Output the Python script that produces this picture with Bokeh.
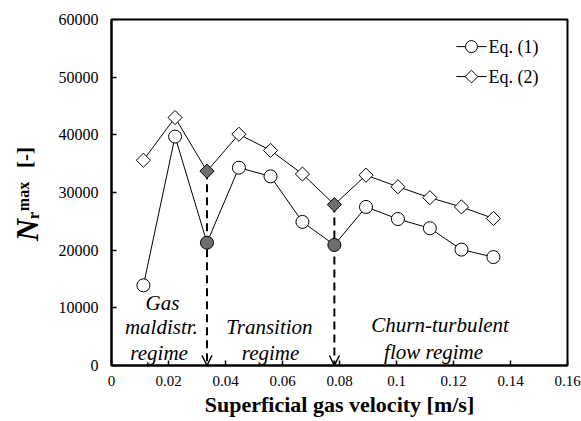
import numpy as np
from bokeh.plotting import figure
from bokeh.layouts import row
from bokeh.models import (Label, Arrow, OpenHead, FixedTicker, Range1d,
                          ColumnDataSource)
from bokeh.embed import file_html
from bokeh.resources import INLINE

# ---- data ----
ug = [0.0112, 0.0223, 0.0335, 0.0447, 0.0558, 0.0670,
      0.0782, 0.0893, 0.1005, 0.1117, 0.1228, 0.1340]
eq1 = [13900, 39700, 21300, 34300, 32800, 24900,
       20900, 27500, 25400, 23800, 20100, 18800]
eq2 = [35600, 43000, 33700, 40100, 37300, 33200,
       27900, 33000, 31000, 29100, 27500, 25500]
transition_idx = [2, 6]
series_names = ["Eq. (1)", "Eq. (2)"]

x_ticks = [0, 0.02, 0.04, 0.06, 0.08, 0.10, 0.12, 0.14, 0.16]
x_tick_labels = ["0", "0.02", "0.04", "0.06", "0.08", "0.1", "0.12", "0.14", "0.16"]
y_ticks = [0, 10000, 20000, 30000, 40000, 50000, 60000]
y_tick_labels = ["0", "10000", "20000", "30000", "40000", "50000", "60000"]

FONT = "Liberation Serif"
GRAY = "#6e6e6e"
YLAB_W = 50

fills = [GRAY if i in transition_idx else "white" for i in range(len(ug))]
src = ColumnDataSource(dict(x=ug, eq1=eq1, eq2=eq2, fill=fills))

p = figure(width=581 - YLAB_W, height=421, x_range=Range1d(0, 0.16), y_range=Range1d(0, 60000),
           output_backend="svg", toolbar_location=None,
           min_border_left=111 - YLAB_W, min_border_right=14, min_border_top=19,
           min_border_bottom=56)
p.xgrid.visible = False
p.ygrid.visible = False
p.outline_line_color = "black"
p.outline_line_width = 2
p.background_fill_color = "white"
p.border_fill_color = "white"

p.xaxis.ticker = FixedTicker(ticks=x_ticks)
p.xaxis.major_label_overrides = {t: l for t, l in zip(x_ticks, x_tick_labels)}
p.yaxis.ticker = FixedTicker(ticks=y_ticks)
p.yaxis.major_label_overrides = {t: l for t, l in zip(y_ticks, y_tick_labels)}
for ax in (p.xaxis, p.yaxis):
    ax.axis_line_width = 2
    ax.axis_line_color = "black"
    ax.major_tick_in = 5
    ax.major_tick_out = 0
    ax.major_tick_line_width = 1.5
    ax.major_tick_line_color = "black"
    ax.minor_tick_line_color = None
    ax.major_label_text_font = FONT
    ax.major_label_text_color = "black"
p.xaxis.major_label_text_font_size = "15px"
p.yaxis.major_label_text_font_size = "16px"
p.xaxis.major_label_standoff = 10
p.yaxis.major_label_standoff = 13
p.xaxis.axis_label = "Superficial gas velocity [m/s]"
p.xaxis.axis_label_text_font = FONT
p.xaxis.axis_label_text_font_style = "bold"
p.xaxis.axis_label_text_font_size = "22px"
p.xaxis.axis_label_text_color = "black"
p.xaxis.axis_label_standoff = 3

# dashed transition markers with arrow heads
for i in transition_idx:
    arr = Arrow(x_start=ug[i], y_start=eq2[i], x_end=ug[i], y_end=0,
                line_dash="8 5", line_width=2, line_color="black",
                end=OpenHead(size=10, line_width=1.5, line_color="black"),
                level="underlay")
    p.add_layout(arr)

# series
p.line("x", "eq1", source=src, line_color="black", line_width=1)
p.scatter("x", "eq1", source=src, marker="circle", size=13, fill_color="fill",
          line_color="black", line_width=1)
p.line("x", "eq2", source=src, line_color="black", line_width=1)
p.scatter("x", "eq2", source=src, marker="square", angle=np.pi / 4, size=10,
          fill_color="fill", line_color="black", line_width=1)

# legend (drawn as keys so that the diamond keeps its orientation)
leg_y = [55300, 50100]
leg_markers = [dict(marker="circle", size=12, angle=0.0),
               dict(marker="square", size=9, angle=np.pi / 4)]
for name, ly, mk in zip(series_names, leg_y, leg_markers):
    p.segment(x0=[0.1210], y0=[ly], x1=[0.1316], y1=[ly], line_color="black", line_width=1)
    p.scatter(x=[0.1263], y=[ly], marker=mk["marker"], size=mk["size"], angle=mk["angle"],
              fill_color="white", line_color="black", line_width=1)
    p.text(x=[0.1323], y=[ly], text=[name], text_font={"value": FONT},
           text_font_size="18px", text_baseline="middle", text_align="left",
           text_color="black")

# regime annotations
regime_texts = [
    ("Gas", 0.0179, 10900), ("maldistr.", 0.0175, 6750), ("regime", 0.0167, 2250),
    ("Transition", 0.0554, 6750), ("regime", 0.0558, 2250),
    ("Churn-turbulent", 0.1153, 7100), ("flow regime", 0.1130, 2400),
]
for t, x, y in regime_texts:
    p.add_layout(Label(x=x, y=y, text=t, text_font=FONT, text_font_style="italic",
                       text_font_size="21px", text_align="center",
                       text_baseline="alphabetic", text_color="black"))

# y axis title panel: N_r^max [-]  (its frame is aligned with the main frame)
q = figure(width=YLAB_W, height=421, x_range=Range1d(0, YLAB_W), y_range=Range1d(365, 19),
           output_backend="svg", toolbar_location=None,
           x_axis_location=None, y_axis_location=None,
           min_border_left=0, min_border_right=0, min_border_top=0, min_border_bottom=0)
q.title.visible = False
q.xgrid.visible = False
q.ygrid.visible = False
q.outline_line_color = None
q.background_fill_color = "white"
q.border_fill_color = "white"
ylab = [
    ("N", 26.5, 229.5, "31px", "bold italic"),
    ("r", 33, 215, "17px", "bold"),
    ("max", 22.5, 196, "16px", "bold"),
    ("[-]", 24.5, 157, "21px", "bold"),
]
for t, x, y, fs, st in ylab:
    q.add_layout(Label(x=x, y=y, text=t, angle=np.pi / 2, text_font=FONT,
                       text_font_style=st, text_font_size=fs, text_align="center",
                       text_baseline="middle", text_color="black"))

layout = row(q, p, spacing=0)
open("out.html", "w").write(file_html(layout, INLINE))
